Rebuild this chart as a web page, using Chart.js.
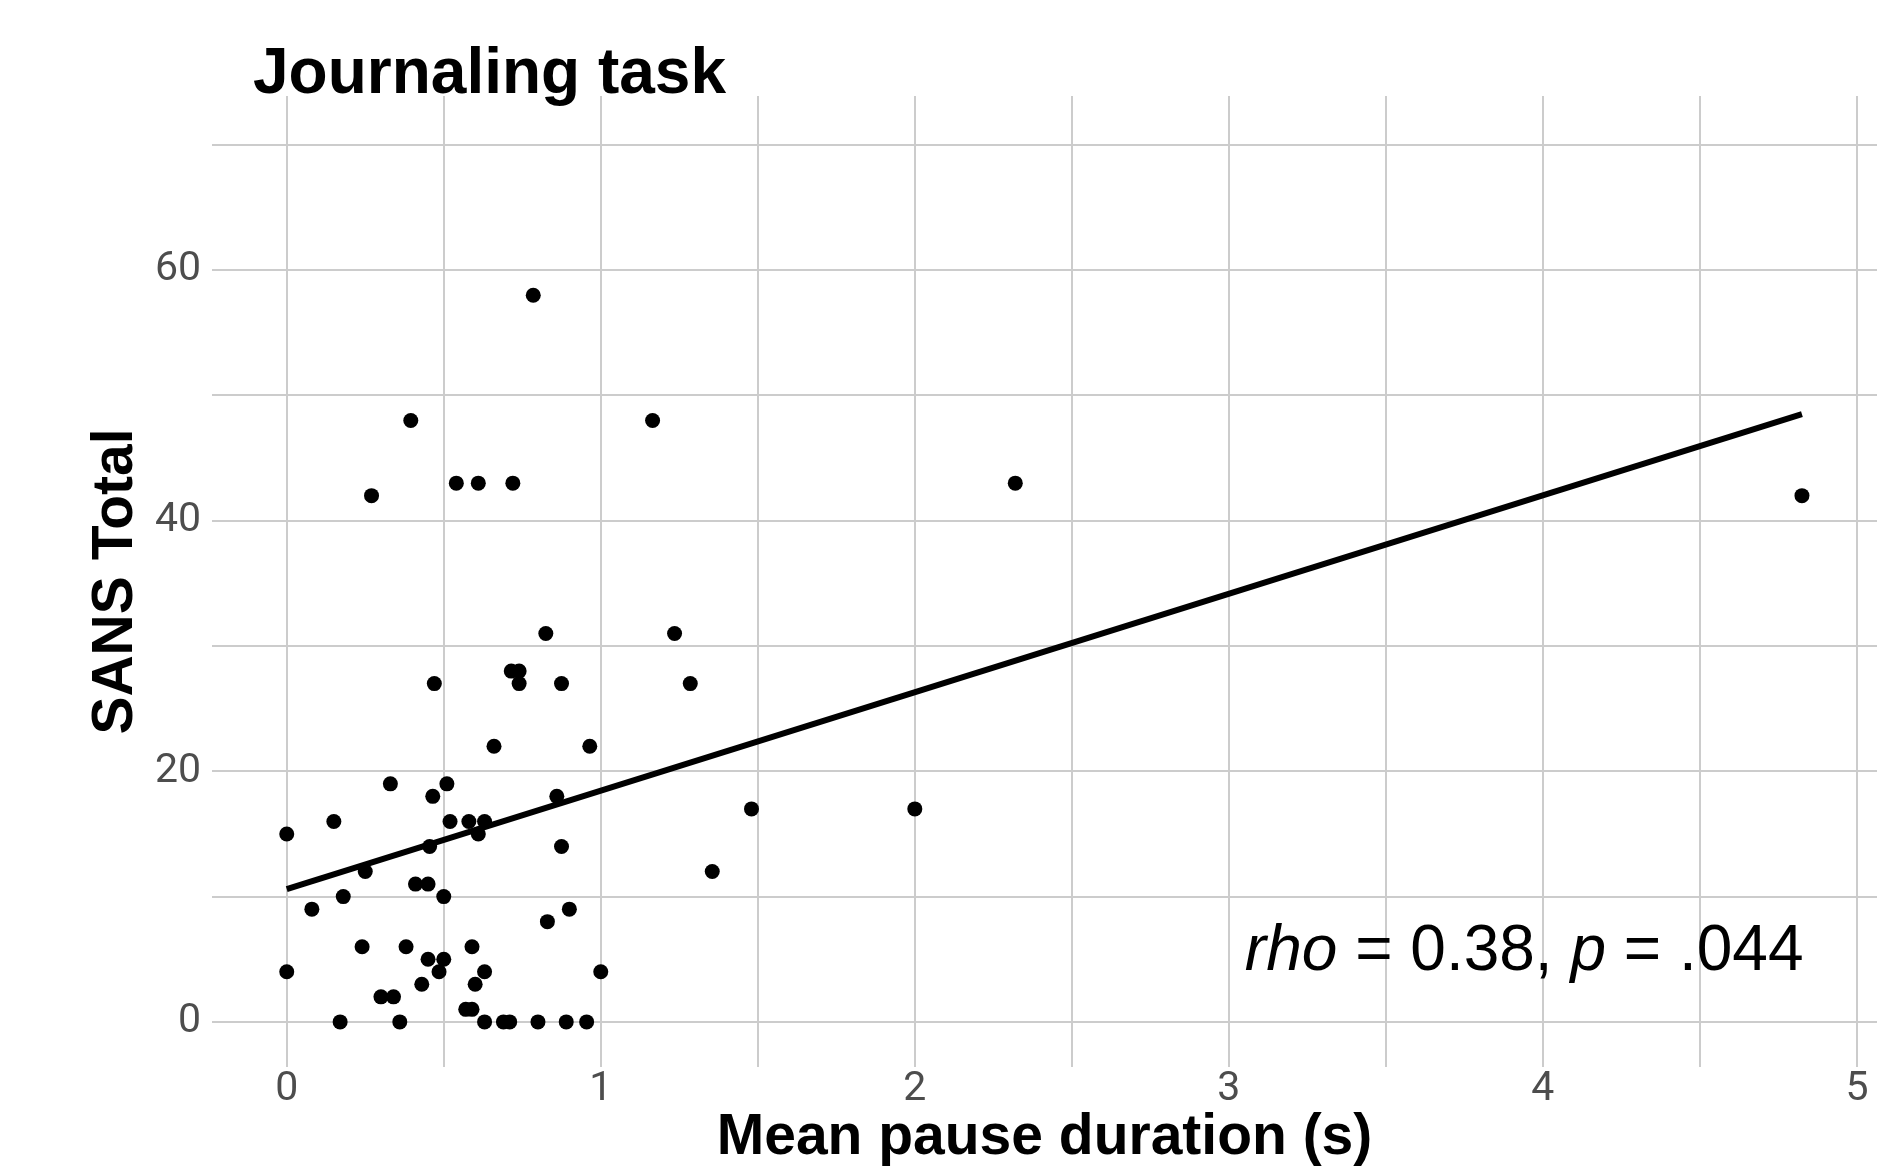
<!DOCTYPE html>
<html>
<head>
<meta charset="utf-8">
<script src="https://cdn.jsdelivr.net/npm/chart.js@4"></script>
<style>
  html, body { margin: 0; padding: 0; background: #ffffff; }
  #wrap { position: relative; width: 1902px; height: 1167px; }
</style>
</head>
<body>
<div id="wrap"><canvas id="c"></canvas></div>
<script>
// ---- Data ----
const chartTitle = "Journaling task";
const xAxisTitle = "Mean pause duration (s)";
const yAxisTitle = "SANS Total";

const pauseDuration = [
  0, 0.15, 0.33, 0.51, 0.465, 0.66, 0.965, 0.52, 0.58, 0.63, 0.61, 0.86, 0.455, 0.875, 0.25,
  0.41, 0.45, 0.18, 0.50, 0.08, 0.90, 0.83, 0.24, 0.38, 0.59, 0.45, 0.50, 0, 0.485, 0.63,
  1.0, 0.43, 0.60, 0.30, 0.34, 0.57, 0.59, 0.17, 0.36, 0.63, 0.69, 0.71, 0.80, 0.89, 0.955,
  0.785, 0.395, 1.165, 0.27, 0.54, 0.61, 0.72, 0.825, 1.235, 0.715, 0.74, 0.74, 0.47, 0.875, 1.285,
  2.32, 1.355, 1.48, 2.0, 4.825
];
const sansTotal = [
  15, 16, 19, 19, 18, 22, 22, 16, 16, 16, 15, 18, 14, 14, 12,
  11, 11, 10, 10, 9, 9, 8, 6, 6, 6, 5, 5, 4, 4, 4,
  4, 3, 3, 2, 2, 1, 1, 0, 0, 0, 0, 0, 0, 0, 0,
  58, 48, 48, 42, 43, 43, 43, 31, 31, 28, 28, 27, 27, 27, 27,
  43, 12, 17, 17, 42
];
// fitted regression line endpoints
const fitX = [0, 4.825];
const fitY = [10.6, 48.5];

const xTickValues = [0, 0.5, 1, 1.5, 2, 2.5, 3, 3.5, 4, 4.5, 5];
const xTickLabels = ["0", "", "1", "", "2", "", "3", "", "4", "", "5"];
const yTickValues = [0, 10, 20, 30, 40, 50, 60, 70];
const yTickLabels = ["0", "", "20", "", "40", "", "60", ""];

const statParts = [
  { text: "rho", italic: true },
  { text: " = 0.38, ", italic: false },
  { text: "p", italic: true },
  { text: " = .044", italic: false }
];

// ---- Build ----
const points = pauseDuration.map((x, i) => ({ x: x, y: sansTotal[i] }));
const fitLine = fitX.map((x, i) => ({ x: x, y: fitY[i] }));

const GRID = "#cccccc";
const TICK = "#4d4d4d";

const overlayPlugin = {
  id: "overlay",
  afterDraw(chart) {
    const ctx = chart.ctx;
    const xs = chart.scales.x, ys = chart.scales.y;
    ctx.save();
    // Title
    ctx.fillStyle = "#000000";
    ctx.textAlign = "left";
    ctx.textBaseline = "alphabetic";
    ctx.font = "bold 64px 'Liberation Sans', Arial, sans-serif";
    ctx.fillText(chartTitle, 253, 93);
    // Statistic annotation (right aligned)
    const size = 64;
    const fonts = statParts.map(p => (p.italic ? "italic " : "") + size + "px 'Liberation Sans', Arial, sans-serif");
    let total = 0;
    const widths = statParts.map((p, i) => { ctx.font = fonts[i]; const w = ctx.measureText(p.text).width; total += w; return w; });
    let x = xs.getPixelForValue(4.83) - total;
    const y = ys.getPixelForValue(4.15);
    statParts.forEach((p, i) => {
      ctx.font = fonts[i];
      ctx.fillText(p.text, x, y);
      x += widths[i];
    });
    ctx.restore();
  }
};

new Chart(document.getElementById("c"), {
  type: "scatter",
  data: {
    datasets: [
      {
        label: "Participants",
        data: points,
        backgroundColor: "#000000",
        borderWidth: 0,
        pointRadius: 7.5,
        pointHoverRadius: 7.5,
        order: 2
      },
      {
        label: "Fit",
        type: "line",
        data: fitLine,
        borderColor: "#000000",
        borderWidth: 6,
        pointRadius: 0,
        fill: false,
        tension: 0,
        order: 1
      }
    ]
  },
  options: {
    responsive: true,
    maintainAspectRatio: false,
    animation: false,
    events: [],
    layout: { padding: { left: 0, top: 96, right: 25, bottom: 0 } },
    plugins: {
      legend: { display: false },
      tooltip: { enabled: false },
      title: { display: false }
    },
    scales: {
      x: {
        type: "linear",
        min: -0.238,
        max: 5.064,
        afterBuildTicks(scale) { scale.ticks = xTickValues.map(v => ({ value: v })); },
        afterFit(scale) { scale.height = 100; },
        border: { display: false },
        grid: { color: GRID, lineWidth: 2, drawTicks: false },
        ticks: {
          autoSkip: false,
          maxRotation: 0,
          padding: 2,
          color: TICK,
          font: { family: "Roboto", size: 41, lineHeight: 1 },
          callback(value, index) { return xTickLabels[index]; }
        },
        title: {
          display: true,
          text: xAxisTitle,
          color: "#000000",
          font: { family: "'Liberation Sans', Arial, sans-serif", size: 57, weight: "bold", lineHeight: 1 },
          padding: { top: 0, bottom: 0 }
        }
      },
      y: {
        type: "linear",
        min: -3.6,
        max: 73.9,
        afterBuildTicks(scale) { scale.ticks = yTickValues.map(v => ({ value: v })); },
        afterFit(scale) { scale.width = 212; },
        border: { display: false },
        grid: { color: GRID, lineWidth: 2, drawTicks: false },
        ticks: {
          autoSkip: false,
          padding: 11,
          color: TICK,
          font: { family: "Roboto", size: 41, lineHeight: 1 },
          callback(value, index) { return yTickLabels[index]; }
        },
        title: {
          display: true,
          text: yAxisTitle,
          color: "#000000",
          font: { family: "'Liberation Sans', Arial, sans-serif", size: 57, weight: "bold", lineHeight: 1 },
          padding: { top: 88, bottom: 0 }
        }
      }
    }
  },
  plugins: [overlayPlugin]
});
</script>
</body>
</html>
